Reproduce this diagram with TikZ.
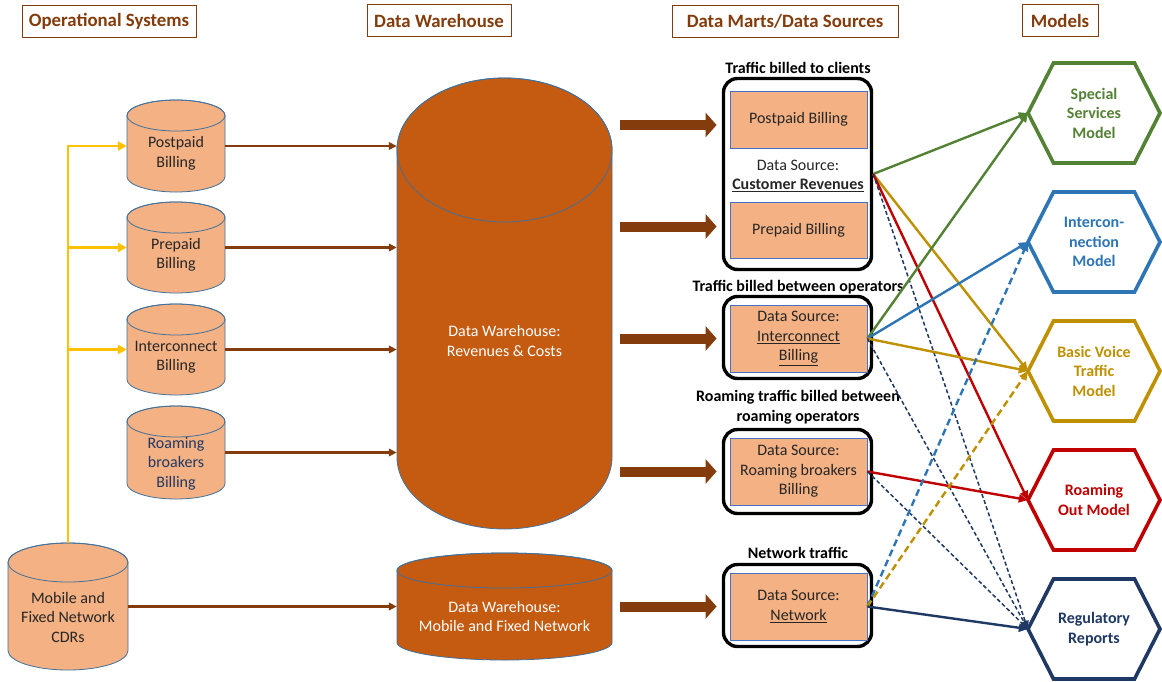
\documentclass[tikz,border=0pt]{standalone}
\usepackage{fontspec}
\setmainfont{Carlito}
\usetikzlibrary{arrows.meta,calc}

\definecolor{peach}{HTML}{F4B183}
\definecolor{rust}{HTML}{C55A11}
\definecolor{brownline}{HTML}{843C0C}
\definecolor{cylborder}{HTML}{41719C}
\definecolor{amber}{HTML}{FFC000}
\definecolor{mgreen}{HTML}{548235}
\definecolor{mblue}{HTML}{2E75B6}
\definecolor{mgold}{HTML}{BF9000}
\definecolor{mred}{HTML}{C00000}
\definecolor{mnavy}{HTML}{1F3864}
\definecolor{inktext}{HTML}{262626}
\definecolor{rectborder}{HTML}{4472C4}

\newcommand\bodyfont{\fontsize{16}{19.5}\selectfont}

% database cylinder: name, centre x, half width, top y, bottom y, cap half height, fill
\newcommand\dbcyl[7]{%
  \filldraw[fill=#7, draw=cylborder, line width=0.8pt]
    (#2-#3,#4+#6) -- (#2-#3,#5-#6)
    arc[start angle=180, end angle=360, x radius=#3pt, y radius=#6pt]
    -- (#2+#3,#4+#6)
    arc[start angle=0, end angle=180, x radius=#3pt, y radius=#6pt] -- cycle;
  \draw[draw=cylborder, line width=0.8pt] (#2,#4+#6) ellipse[x radius=#3pt, y radius=#6pt];
  \node[inner sep=0pt, minimum width={2*#3pt}, minimum height={#5pt-#4pt}] (#1) at (#2,{(#4+#5)/2}) {};
}

% model hexagon: name, centre x, centre y, colour, text
\newcommand\hexmodel[5]{%
  \draw[line width=3.6pt, line join=miter, draw=#4]
    (#2-66,#3) -- (#2-40.5,#3-50) -- (#2+40.5,#3-50) -- (#2+66,#3)
    -- (#2+40.5,#3+50) -- (#2-40.5,#3+50) -- cycle;
  \node[hexnode, text=#4] (#1) at (#2,#3) {#5};
}

\tikzset{
  header/.style={draw=brownline, line width=0.9pt, text=brownline, inner sep=0pt,
    minimum height=32pt, font=\fontsize{18.8}{22}\selectfont\bfseries},
  cyltext/.style={align=center, inner sep=0pt, font=\bodyfont, text=inktext},
  whitetext/.style={align=center, inner sep=0pt, font=\bodyfont, text=white},
  martbox/.style={draw=black, line width=3.4pt, rounded corners=14pt, fill=white, inner sep=0pt},
  martrect/.style={draw=rectborder, line width=0.8pt, fill=peach, inner sep=0pt,
    minimum width=137pt, align=center, font=\bodyfont, text=inktext},
  martlabel/.style={align=center, inner sep=0pt, font=\fontsize{16}{19.5}\selectfont\bfseries, text=black},
  midtext/.style={align=center, inner sep=0pt, font=\bodyfont, text=inktext},
  hexnode/.style={align=center, inner sep=0pt, minimum width=132pt, minimum height=100pt,
    font=\fontsize{16}{19.5}\selectfont\bfseries},
  feed/.style={draw=brownline, line width=2.2pt, -{Triangle[length=8pt,width=7.5pt]}},
  branch/.style={draw=amber, line width=2.5pt, -{Triangle[length=9pt,width=9pt]}},
  bulk/.style={draw=brownline, line width=10pt, -{Triangle[length=11pt,width=24pt]}},
  link/.style={line width=2.4pt, -{Triangle[length=9pt,width=8pt]}},
  thinlink/.style={draw=mnavy, line width=1.5pt, dash pattern=on 4pt off 2.5pt,
    -{Triangle[length=8pt,width=7pt]}},
  widelink/.style={line width=2.4pt, dash pattern=on 7pt off 4pt, -{Triangle[length=9pt,width=8pt]}}
}

\begin{document}
\begin{tikzpicture}[x=1pt, y=-1pt]
\fill[white] (0,0) rectangle (1162,681);
\useasboundingbox (0,0) rectangle (1162,681);

% column headings
\node[header, minimum width=174pt] (h1) at (109,21) {Operational Systems};
\node[header, minimum width=144pt] (h2) at (439,20.5) {Data Warehouse};
\node[header, minimum width=226pt] (h3) at (785,21.5) {Data Marts/Data Sources};
\node[header, minimum width=76pt] (h4) at (1060,20.5) {Models};

% operational systems
\dbcyl{pp}{176}{49}{100}{192}{15.5}{peach}
\dbcyl{pb}{176}{49}{202}{293}{15.5}{peach}
\dbcyl{ib}{176}{49}{304}{395}{15.5}{peach}
\dbcyl{rb}{176}{49}{406}{499}{15.5}{peach}
\dbcyl{cdr}{68}{60}{543}{670}{19.5}{peach}
\node[cyltext] (pp-t) at ($(pp)+(0,7.5)$) {Postpaid\\Billing};
\node[cyltext] (pb-t) at ($(pb)+(0,7.5)$) {Prepaid\\Billing};
\node[cyltext] (ib-t) at ($(ib)+(0,7.5)$) {Interconnect\\Billing};
\node[cyltext, text=mnavy] (rb-t) at ($(rb)+(0,11)$) {Roaming\\broakers\\Billing};
\node[cyltext] (cdr-t) at ($(cdr)+(0,10.5)$) {Mobile and\\Fixed Network\\CDRs};

% data warehouses
\dbcyl{dw}{504.5}{107.5}{78}{529}{72}{rust}
\dbcyl{dwn}{504.5}{107.5}{553}{660}{17.5}{rust}
\node[whitetext] (dw-t) at ($(dw)+(0,37.5)$) {Data Warehouse:\\Revenues \& Costs};
\node[whitetext] (dwn-t) at ($(dwn)+(0,10)$) {Data Warehouse:\\Mobile and Fixed Network};

% CDR feeds into the billing systems
\draw[branch] (cdr.north) |- (pp.west);
\draw[branch] (cdr.north |- pb.west) -- (pb.west);
\draw[branch] (cdr.north |- ib.west) -- (ib.west);

% loads into the warehouses
\draw[feed] (pp.east) -- (pp.east -| dw.west);
\draw[feed] (pb.east) -- (pb.east -| dw.west);
\draw[feed] (ib.east) -- (ib.east -| dw.west);
\draw[feed] (rb.east) -- (rb.east -| dw.west);
\draw[feed] (cdr.east) -- (cdr.east -| dwn.west);

% data marts
\node[martlabel] (l1) at (798,68) {Traffic billed to clients};
\node[martbox, minimum width=148pt, minimum height=191pt] (b1) at (797.5,174) {};
\node[martrect, minimum height=57pt] (r1a) at (798.5,119.5) {Postpaid Billing};
\node[midtext] (b1-t) at (798,176) {Data Source:\\\textbf{\underline{Customer Revenues}}};
\node[martrect, minimum height=56pt] (r1b) at (798.5,230) {Prepaid Billing};

\node[martlabel] (l2) at (798,287) {Traffic billed between operators};
\node[martbox, minimum width=148pt, minimum height=82pt] (b2) at (797.5,337.5) {};
\node[martrect, minimum height=67pt] (r2) at (798.5,338.5) {Data Source:\\\underline{Interconnect}\\\underline{Billing}};

\node[martlabel] (l3) at (798,407) {Roaming traffic billed between\\roaming operators};
\node[martbox, minimum width=148pt, minimum height=84pt] (b3) at (797.5,471.5) {};
\node[martrect, minimum height=67pt] (r3) at (798.5,471.5) {Data Source:\\Roaming broakers\\Billing};

\node[martlabel] (l4) at (798,553) {Network traffic};
\node[martbox, minimum width=148pt, minimum height=82pt] (b4) at (797.5,605.5) {};
\node[martrect, minimum height=67pt] (r4) at (798.5,606.5) {Data Source:\\\underline{Network}};

% warehouse extracts into the marts
\draw[bulk] ($(dw.east |- r1a.west)+(8,5.5)$) -- ($(r1a.west)+(-13,5.5)$);
\draw[bulk] ($(dw.east |- r1b.west)+(8,-3.5)$) -- ($(r1b.west)+(-13,-3.5)$);
\draw[bulk] ($(dw.east |- r2.west)+(8,0)$) -- ($(r2.west)+(-13,0)$);
\draw[bulk] ($(dw.east |- r3.west)+(8,0)$) -- ($(r3.west)+(-13,0)$);
\draw[bulk] ($(dwn.east |- r4.west)+(8,0)$) -- ($(r4.west)+(-13,0)$);

% models
\hexmodel{ss}{1094}{113}{mgreen}{Special\\Services\\Model}
\hexmodel{ic}{1094}{242}{mblue}{Intercon-\\nection\\Model}
\hexmodel{bv}{1094}{371}{mgold}{Basic Voice\\Traffic\\Model}
\hexmodel{ro}{1094}{500}{mred}{Roaming\\Out Model}
\hexmodel{rr}{1094}{629}{mnavy}{Regulatory\\Reports}

% data sources feeding the models
\draw[link, mgreen] (b1.east) -- (ss.west);
\draw[link, mgold] (b1.east) -- (bv.west);
\draw[link, mred] (b1.east) -- (ro.west);
\draw[thinlink] (b1.east) -- (rr.west);
\draw[link, mgreen] (r2.east) -- (ss.west);
\draw[link, mblue] (r2.east) -- (ic.west);
\draw[link, mgold] (r2.east) -- (bv.west);
\draw[thinlink] (r2.east) -- (rr.west);
\draw[link, mred] (r3.east) -- (ro.west);
\draw[thinlink] (r3.east) -- (rr.west);
\draw[widelink, mblue] (r4.east) -- (ic.west);
\draw[widelink, mgold] (r4.east) -- (bv.west);
\draw[link, mnavy] (r4.east) -- (rr.west);
\end{tikzpicture}
\end{document}
